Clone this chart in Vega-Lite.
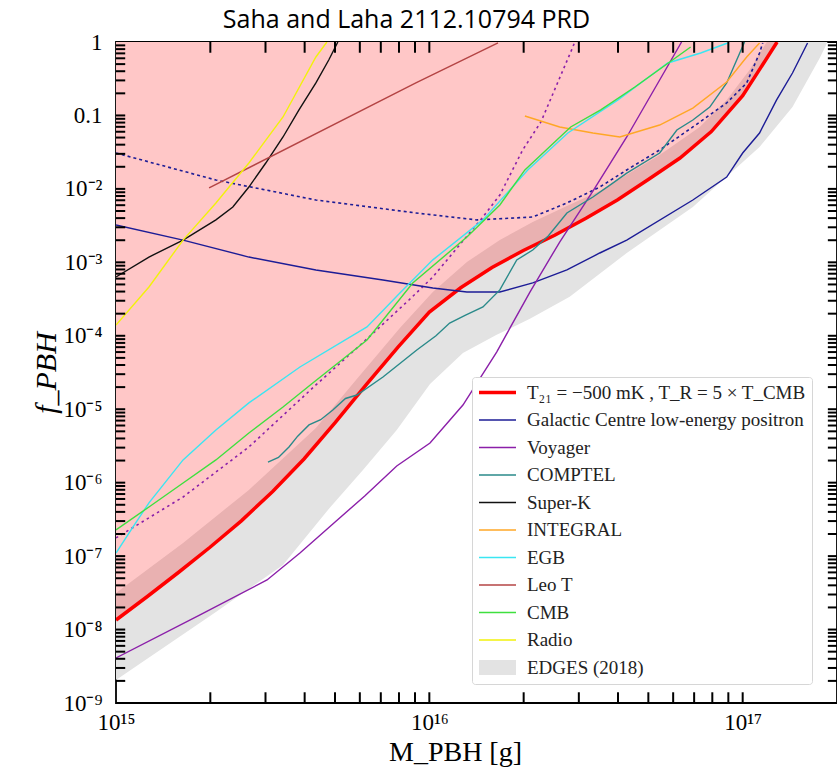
{
 "$schema": "https://vega.github.io/schema/vega-lite/v6.json",
 "width": 721, "height": 661,
 "autosize": {"type": "none"},
 "padding": {"left": 116, "top": 42, "right": 0, "bottom": 70},
 "background": "white",
 "title": {"text": "Saha and  Laha 2112.10794 PRD", "font": "Open Sans", "fontSize": 25, "fontWeight": "normal", "color": "black", "anchor": "middle", "dx": -70, "offset": -2},
 "config": {
  "view": {"stroke": "black", "strokeWidth": 1.8},
  "axis": {"domain": false, "grid": false, "ticks": false, "labelFlush": false, "labelOverlap": false, "zindex": 1}
 },
 "datasets": {
  "xticks": [
   {"M": 2e15}, {"M": 3e15}, {"M": 4e15}, {"M": 5e15}, {"M": 6e15}, {"M": 7e15}, {"M": 8e15}, {"M": 9e15},
   {"M": 1e16}, {"M": 2e16}, {"M": 3e16}, {"M": 4e16}, {"M": 5e16}, {"M": 6e16}, {"M": 7e16}, {"M": 8e16}, {"M": 9e16},
   {"M": 1e17}
  ],
  "yticks": [
   {"f": 2e-9}, {"f": 3e-9}, {"f": 4e-9}, {"f": 5e-9}, {"f": 6e-9}, {"f": 7e-9}, {"f": 8e-9}, {"f": 9e-9},
   {"f": 1e-8}, {"f": 2e-8}, {"f": 3e-8}, {"f": 4e-8}, {"f": 5e-8}, {"f": 6e-8}, {"f": 7e-8}, {"f": 8e-8}, {"f": 9e-8},
   {"f": 1e-7}, {"f": 2e-7}, {"f": 3e-7}, {"f": 4e-7}, {"f": 5e-7}, {"f": 6e-7}, {"f": 7e-7}, {"f": 8e-7}, {"f": 9e-7},
   {"f": 1e-6}, {"f": 2e-6}, {"f": 3e-6}, {"f": 4e-6}, {"f": 5e-6}, {"f": 6e-6}, {"f": 7e-6}, {"f": 8e-6}, {"f": 9e-6},
   {"f": 1e-5}, {"f": 2e-5}, {"f": 3e-5}, {"f": 4e-5}, {"f": 5e-5}, {"f": 6e-5}, {"f": 7e-5}, {"f": 8e-5}, {"f": 9e-5},
   {"f": 1e-4}, {"f": 2e-4}, {"f": 3e-4}, {"f": 4e-4}, {"f": 5e-4}, {"f": 6e-4}, {"f": 7e-4}, {"f": 8e-4}, {"f": 9e-4},
   {"f": 1e-3}, {"f": 2e-3}, {"f": 3e-3}, {"f": 4e-3}, {"f": 5e-3}, {"f": 6e-3}, {"f": 7e-3}, {"f": 8e-3}, {"f": 9e-3},
   {"f": 1e-2}, {"f": 2e-2}, {"f": 3e-2}, {"f": 4e-2}, {"f": 5e-2}, {"f": 6e-2}, {"f": 7e-2}, {"f": 8e-2}, {"f": 9e-2},
   {"f": 0.1}, {"f": 0.2}, {"f": 0.3}, {"f": 0.4}, {"f": 0.5}, {"f": 0.6}, {"f": 0.7}, {"f": 0.8}, {"f": 0.9}
  ],
  "curves": [
   {"series": "EDGES lower", "M": 1e15, "f": 2.06e-9},
   {"series": "EDGES lower", "M": 2.084e15, "f": 1.74e-8},
   {"series": "EDGES lower", "M": 3.412e15, "f": 7.59e-8},
   {"series": "EDGES lower", "M": 4.82e15, "f": 4.6e-7},
   {"series": "EDGES lower", "M": 6.14e15, "f": 1.49e-6},
   {"series": "EDGES lower", "M": 7.87e15, "f": 5.21e-6},
   {"series": "EDGES lower", "M": 1.005e16, "f": 2.2e-5},
   {"series": "EDGES lower", "M": 1.28e16, "f": 5.83e-5},
   {"series": "EDGES lower", "M": 1.64e16, "f": 1.03e-4},
   {"series": "EDGES lower", "M": 2.094e16, "f": 1.7e-4},
   {"series": "EDGES lower", "M": 2.805e16, "f": 3.4e-4},
   {"series": "EDGES lower", "M": 4.266e16, "f": 1.34e-3},
   {"series": "EDGES lower", "M": 6.934e16, "f": 5.68e-3},
   {"series": "EDGES lower", "M": 1.132e17, "f": 3.72e-2},
   {"series": "EDGES lower", "M": 1.442e17, "f": 0.13},
   {"series": "EDGES lower", "M": 1.762e17, "f": 0.605},
   {"series": "EDGES lower", "M": 1.866e17, "f": 1.0},

   {"series": "EDGES upper", "M": 1e15, "f": 3.15e-8},
   {"series": "EDGES upper", "M": 1.637e15, "f": 1.51e-7},
   {"series": "EDGES upper", "M": 2.655e15, "f": 7.96e-7},
   {"series": "EDGES upper", "M": 4.345e15, "f": 5.56e-6},
   {"series": "EDGES upper", "M": 5.834e15, "f": 2.5e-5},
   {"series": "EDGES upper", "M": 8.054e15, "f": 1.28e-4},
   {"series": "EDGES upper", "M": 1.026e16, "f": 3.94e-4},
   {"series": "EDGES upper", "M": 1.318e16, "f": 1.01e-3},
   {"series": "EDGES upper", "M": 1.679e16, "f": 2.01e-3},
   {"series": "EDGES upper", "M": 2.138e16, "f": 3.54e-3},
   {"series": "EDGES upper", "M": 2.748e16, "f": 5.85e-3},
   {"series": "EDGES upper", "M": 3.499e16, "f": 9.35e-3},
   {"series": "EDGES upper", "M": 5.433e16, "f": 2.9e-2},
   {"series": "EDGES upper", "M": 7.295e16, "f": 6.97e-2},
   {"series": "EDGES upper", "M": 8.892e16, "f": 0.162},
   {"series": "EDGES upper", "M": 1.052e17, "f": 0.416},
   {"series": "EDGES upper", "M": 1.194e17, "f": 1.0},

   {"series": "T₂₁ = −500 mK , T_R = 5 × T_CMB", "M": 1e15, "f": 1.35e-8},
   {"series": "T₂₁ = −500 mK , T_R = 5 × T_CMB", "M": 1.259e15, "f": 2.82e-8},
   {"series": "T₂₁ = −500 mK , T_R = 5 × T_CMB", "M": 1.585e15, "f": 6.03e-8},
   {"series": "T₂₁ = −500 mK , T_R = 5 × T_CMB", "M": 1.995e15, "f": 1.32e-7},
   {"series": "T₂₁ = −500 mK , T_R = 5 × T_CMB", "M": 2.512e15, "f": 3.02e-7},
   {"series": "T₂₁ = −500 mK , T_R = 5 × T_CMB", "M": 3.162e15, "f": 7.59e-7},
   {"series": "T₂₁ = −500 mK , T_R = 5 × T_CMB", "M": 3.981e15, "f": 2.1e-6},
   {"series": "T₂₁ = −500 mK , T_R = 5 × T_CMB", "M": 5.012e15, "f": 6.6e-6},
   {"series": "T₂₁ = −500 mK , T_R = 5 × T_CMB", "M": 6.31e15, "f": 2.2e-5},
   {"series": "T₂₁ = −500 mK , T_R = 5 × T_CMB", "M": 7.943e15, "f": 7.0e-5},
   {"series": "T₂₁ = −500 mK , T_R = 5 × T_CMB", "M": 1e16, "f": 2.1e-4},
   {"series": "T₂₁ = −500 mK , T_R = 5 × T_CMB", "M": 1.259e16, "f": 4.5e-4},
   {"series": "T₂₁ = −500 mK , T_R = 5 × T_CMB", "M": 1.585e16, "f": 8.51e-4},
   {"series": "T₂₁ = −500 mK , T_R = 5 × T_CMB", "M": 1.995e16, "f": 1.45e-3},
   {"series": "T₂₁ = −500 mK , T_R = 5 × T_CMB", "M": 2.512e16, "f": 2.34e-3},
   {"series": "T₂₁ = −500 mK , T_R = 5 × T_CMB", "M": 3.162e16, "f": 3.98e-3},
   {"series": "T₂₁ = −500 mK , T_R = 5 × T_CMB", "M": 3.981e16, "f": 7.08e-3},
   {"series": "T₂₁ = −500 mK , T_R = 5 × T_CMB", "M": 5.012e16, "f": 1.35e-2},
   {"series": "T₂₁ = −500 mK , T_R = 5 × T_CMB", "M": 6.31e16, "f": 2.63e-2},
   {"series": "T₂₁ = −500 mK , T_R = 5 × T_CMB", "M": 7.943e16, "f": 6.03e-2},
   {"series": "T₂₁ = −500 mK , T_R = 5 × T_CMB", "M": 1e17, "f": 0.186},
   {"series": "T₂₁ = −500 mK , T_R = 5 × T_CMB", "M": 1.122e17, "f": 0.398},
   {"series": "T₂₁ = −500 mK , T_R = 5 × T_CMB", "M": 1.288e17, "f": 1.0},

   {"series": "Galactic Centre low-energy positron", "M": 1e15, "f": 3.23e-3},
   {"series": "Galactic Centre low-energy positron", "M": 1.637e15, "f": 2.01e-3},
   {"series": "Galactic Centre low-energy positron", "M": 2.655e15, "f": 1.18e-3},
   {"series": "Galactic Centre low-energy positron", "M": 4.345e15, "f": 7.87e-4},
   {"series": "Galactic Centre low-energy positron", "M": 7.112e15, "f": 5.75e-4},
   {"series": "Galactic Centre low-energy positron", "M": 1.026e16, "f": 4.48e-4},
   {"series": "Galactic Centre low-energy positron", "M": 1.318e16, "f": 3.94e-4},
   {"series": "Galactic Centre low-energy positron", "M": 1.679e16, "f": 3.94e-4},
   {"series": "Galactic Centre low-energy positron", "M": 2.138e16, "f": 5.24e-4},
   {"series": "Galactic Centre low-energy positron", "M": 2.748e16, "f": 7.87e-4},
   {"series": "Galactic Centre low-energy positron", "M": 3.499e16, "f": 1.34e-3},
   {"series": "Galactic Centre low-energy positron", "M": 4.266e16, "f": 2.01e-3},
   {"series": "Galactic Centre low-energy positron", "M": 6.934e16, "f": 7.06e-3},
   {"series": "Galactic Centre low-energy positron", "M": 8.892e16, "f": 1.45e-2},
   {"series": "Galactic Centre low-energy positron", "M": 1e17, "f": 3.08e-2},
   {"series": "Galactic Centre low-energy positron", "M": 1.132e17, "f": 5.77e-2},
   {"series": "Galactic Centre low-energy positron", "M": 1.282e17, "f": 0.162},
   {"series": "Galactic Centre low-energy positron", "M": 1.442e17, "f": 0.378},
   {"series": "Galactic Centre low-energy positron", "M": 1.611e17, "f": 0.97},

   {"series": "Galactic Centre (dotted)", "M": 1e15, "f": 3.08e-2},
   {"series": "Galactic Centre (dotted)", "M": 2.084e15, "f": 1.32e-2},
   {"series": "Galactic Centre (dotted)", "M": 4.345e15, "f": 7.06e-3},
   {"series": "Galactic Centre (dotted)", "M": 9.057e15, "f": 4.7e-3},
   {"series": "Galactic Centre (dotted)", "M": 1.419e16, "f": 3.78e-3},
   {"series": "Galactic Centre (dotted)", "M": 2.138e16, "f": 4.14e-3},
   {"series": "Galactic Centre (dotted)", "M": 2.748e16, "f": 6.43e-3},
   {"series": "Galactic Centre (dotted)", "M": 3.499e16, "f": 1.06e-2},
   {"series": "Galactic Centre (dotted)", "M": 4.266e16, "f": 1.81e-2},
   {"series": "Galactic Centre (dotted)", "M": 5.433e16, "f": 3.39e-2},
   {"series": "Galactic Centre (dotted)", "M": 6.934e16, "f": 6.97e-2},
   {"series": "Galactic Centre (dotted)", "M": 8.892e16, "f": 0.148},
   {"series": "Galactic Centre (dotted)", "M": 1.03e17, "f": 0.277},
   {"series": "Galactic Centre (dotted)", "M": 1.132e17, "f": 0.708},
   {"series": "Galactic Centre (dotted)", "M": 1.159e17, "f": 0.97},

   {"series": "Voyager", "M": 1e15, "f": 4.1e-9},
   {"series": "Voyager", "M": 1.854e15, "f": 1.58e-8},
   {"series": "Voyager", "M": 3.034e15, "f": 4.73e-8},
   {"series": "Voyager", "M": 3.864e15, "f": 1.1e-7},
   {"series": "Voyager", "M": 4.92e15, "f": 2.74e-7},
   {"series": "Voyager", "M": 6.22e15, "f": 6.59e-7},
   {"series": "Voyager", "M": 7.87e15, "f": 1.69e-6},
   {"series": "Voyager", "M": 1.005e16, "f": 3.47e-6},
   {"series": "Voyager", "M": 1.28e16, "f": 1.14e-5},
   {"series": "Voyager", "M": 1.64e16, "f": 6.01e-5},
   {"series": "Voyager", "M": 2.094e16, "f": 3.94e-4},
   {"series": "Voyager", "M": 2.606e16, "f": 1.89e-3},
   {"series": "Voyager", "M": 3.327e16, "f": 9.35e-3},
   {"series": "Voyager", "M": 4.266e16, "f": 5.09e-2},
   {"series": "Voyager", "M": 5.433e16, "f": 0.304},
   {"series": "Voyager", "M": 6.383e16, "f": 1.0},

   {"series": "Voyager (dotted)", "M": 1e15, "f": 1.77e-7},
   {"series": "Voyager (dotted)", "M": 1.637e15, "f": 6.38e-7},
   {"series": "Voyager (dotted)", "M": 2.655e15, "f": 3.06e-6},
   {"series": "Voyager (dotted)", "M": 4.345e15, "f": 2.14e-5},
   {"series": "Voyager (dotted)", "M": 6.324e15, "f": 9.06e-5},
   {"series": "Voyager (dotted)", "M": 8.61e15, "f": 3.07e-4},
   {"series": "Voyager (dotted)", "M": 1.026e16, "f": 6.32e-4},
   {"series": "Voyager (dotted)", "M": 1.483e16, "f": 4.14e-3},
   {"series": "Voyager (dotted)", "M": 1.679e16, "f": 8.26e-3},
   {"series": "Voyager (dotted)", "M": 1.986e16, "f": 3.39e-2},
   {"series": "Voyager (dotted)", "M": 2.27e16, "f": 8.15e-2},
   {"series": "Voyager (dotted)", "M": 2.871e16, "f": 0.855},
   {"series": "Voyager (dotted)", "M": 2.911e16, "f": 1.0},

   {"series": "COMPTEL", "M": 3.055e15, "f": 1.91e-6},
   {"series": "COMPTEL", "M": 3.3e15, "f": 2.2e-6},
   {"series": "COMPTEL", "M": 3.565e15, "f": 3.06e-6},
   {"series": "COMPTEL", "M": 3.8e15, "f": 4.3e-6},
   {"series": "COMPTEL", "M": 4.13e15, "f": 6.11e-6},
   {"series": "COMPTEL", "M": 4.5e15, "f": 7.2e-6},
   {"series": "COMPTEL", "M": 4.92e15, "f": 9.77e-6},
   {"series": "COMPTEL", "M": 5.4e15, "f": 1.4e-5},
   {"series": "COMPTEL", "M": 5.875e15, "f": 1.56e-5},
   {"series": "COMPTEL", "M": 7.112e15, "f": 2.75e-5},
   {"series": "COMPTEL", "M": 8.0e15, "f": 4.1e-5},
   {"series": "COMPTEL", "M": 9.12e15, "f": 6.41e-5},
   {"series": "COMPTEL", "M": 1.05e16, "f": 1.0e-4},
   {"series": "COMPTEL", "M": 1.161e16, "f": 1.49e-4},
   {"series": "COMPTEL", "M": 1.3e16, "f": 1.9e-4},
   {"series": "COMPTEL", "M": 1.483e16, "f": 2.47e-4},
   {"series": "COMPTEL", "M": 1.679e16, "f": 4.21e-4},
   {"series": "COMPTEL", "M": 1.901e16, "f": 1.08e-3},
   {"series": "COMPTEL", "M": 2.138e16, "f": 1.47e-3},
   {"series": "COMPTEL", "M": 2.4e16, "f": 2.3e-3},
   {"series": "COMPTEL", "M": 2.748e16, "f": 4.7e-3},
   {"series": "COMPTEL", "M": 3.327e16, "f": 7.76e-3},
   {"series": "COMPTEL", "M": 3.8e16, "f": 1.15e-2},
   {"series": "COMPTEL", "M": 4.266e16, "f": 1.64e-2},
   {"series": "COMPTEL", "M": 5.433e16, "f": 3.08e-2},
   {"series": "COMPTEL", "M": 6.166e16, "f": 6.34e-2},
   {"series": "COMPTEL", "M": 6.934e16, "f": 8.67e-2},
   {"series": "COMPTEL", "M": 7.852e16, "f": 0.13},
   {"series": "COMPTEL", "M": 8.892e16, "f": 0.277},
   {"series": "COMPTEL", "M": 9.57e16, "f": 0.569},
   {"series": "COMPTEL", "M": 1.014e17, "f": 1.0},

   {"series": "Super-K", "M": 1e15, "f": 6.32e-4},
   {"series": "Super-K", "M": 1.274e15, "f": 1.18e-3},
   {"series": "Super-K", "M": 1.637e15, "f": 2.01e-3},
   {"series": "Super-K", "M": 2.084e15, "f": 3.78e-3},
   {"series": "Super-K", "M": 2.36e15, "f": 5.68e-3},
   {"series": "Super-K", "M": 2.655e15, "f": 1.06e-2},
   {"series": "Super-K", "M": 3.006e15, "f": 2.25e-2},
   {"series": "Super-K", "M": 3.412e15, "f": 5.09e-2},
   {"series": "Super-K", "M": 3.837e15, "f": 0.119},
   {"series": "Super-K", "M": 4.345e15, "f": 0.277},
   {"series": "Super-K", "M": 4.775e15, "f": 0.569},
   {"series": "Super-K", "M": 5.105e15, "f": 1.0},

   {"series": "INTEGRAL", "M": 2.018e16, "f": 9.84e-2},
   {"series": "INTEGRAL", "M": 2.606e16, "f": 6.97e-2},
   {"series": "INTEGRAL", "M": 3.327e16, "f": 5.77e-2},
   {"series": "INTEGRAL", "M": 4.055e16, "f": 5.09e-2},
   {"series": "INTEGRAL", "M": 5.433e16, "f": 7.41e-2},
   {"series": "INTEGRAL", "M": 6.934e16, "f": 0.126},
   {"series": "INTEGRAL", "M": 8.892e16, "f": 0.285},
   {"series": "INTEGRAL", "M": 1.03e17, "f": 0.625},
   {"series": "INTEGRAL", "M": 1.132e17, "f": 0.97},

   {"series": "EGB", "M": 1e15, "f": 1.1e-7},
   {"series": "EGB", "M": 1.132e15, "f": 2.49e-7},
   {"series": "EGB", "M": 1.274e15, "f": 5.3e-7},
   {"series": "EGB", "M": 1.637e15, "f": 2.04e-6},
   {"series": "EGB", "M": 2.084e15, "f": 5.22e-6},
   {"series": "EGB", "M": 2.655e15, "f": 1.22e-5},
   {"series": "EGB", "M": 3.864e15, "f": 3.76e-5},
   {"series": "EGB", "M": 6.324e15, "f": 1.32e-4},
   {"series": "EGB", "M": 8.054e15, "f": 3.83e-4},
   {"series": "EGB", "M": 1.026e16, "f": 1.08e-3},
   {"series": "EGB", "M": 1.483e16, "f": 3.78e-3},
   {"series": "EGB", "M": 2.061e16, "f": 1.81e-2},
   {"series": "EGB", "M": 2.767e16, "f": 5.77e-2},
   {"series": "EGB", "M": 3.99e16, "f": 0.162},
   {"series": "EGB", "M": 5.768e16, "f": 0.518},
   {"series": "EGB", "M": 7.345e16, "f": 0.708},
   {"series": "EGB", "M": 8.954e16, "f": 0.97},

   {"series": "Leo T", "M": 1.982e15, "f": 1.03e-2},
   {"series": "Leo T", "M": 9.057e15, "f": 0.277},
   {"series": "Leo T", "M": 1.656e16, "f": 0.97},

   {"series": "CMB", "M": 1e15, "f": 2.27e-7},
   {"series": "CMB", "M": 1.274e15, "f": 4.67e-7},
   {"series": "CMB", "M": 1.637e15, "f": 9.91e-7},
   {"series": "CMB", "M": 2.084e15, "f": 2.04e-6},
   {"series": "CMB", "M": 2.655e15, "f": 4.75e-6},
   {"series": "CMB", "M": 3.412e15, "f": 1.07e-5},
   {"series": "CMB", "M": 4.246e15, "f": 2.28e-5},
   {"series": "CMB", "M": 6.324e15, "f": 8.77e-5},
   {"series": "CMB", "M": 8.851e15, "f": 5.24e-4},
   {"series": "CMB", "M": 1.318e16, "f": 2.21e-3},
   {"series": "CMB", "M": 1.679e16, "f": 6.04e-3},
   {"series": "CMB", "M": 2.018e16, "f": 1.81e-2},
   {"series": "CMB", "M": 2.825e16, "f": 6.97e-2},
   {"series": "CMB", "M": 3.524e16, "f": 0.119},
   {"series": "CMB", "M": 4.529e16, "f": 0.244},
   {"series": "CMB", "M": 6.823e16, "f": 0.855},

   {"series": "Radio", "M": 1e15, "f": 1.4e-4},
   {"series": "Radio", "M": 1.274e15, "f": 4.61e-4},
   {"series": "Radio", "M": 1.637e15, "f": 2.01e-3},
   {"series": "Radio", "M": 2.084e15, "f": 6.43e-3},
   {"series": "Radio", "M": 2.655e15, "f": 2.25e-2},
   {"series": "Radio", "M": 3.412e15, "f": 9.53e-2},
   {"series": "Radio", "M": 4.345e15, "f": 0.625},
   {"series": "Radio", "M": 4.71e15, "f": 1.0}
  ]
 },
 "layer": [
  {
   "data": {"name": "curves"},
   "transform": [{"filter": "datum.series === 'EDGES lower'"}],
   "mark": {"type": "area", "color": "#e3e3e3", "clip": true},
   "encoding": {
    "x": {"field": "M", "type": "quantitative", "scale": {"type": "log", "domain": [1e15, 2e17]},
     "axis": {"orient": "bottom", "values": [1e15, 1e16, 1e17],
      "labelExpr": "datum.value === 1e15 ? '10¹⁵' : datum.value === 1e16 ? '10¹⁶' : datum.value === 1e17 ? '10¹⁷' : ''",
      "labelFont": "Liberation Serif", "labelFontSize": 23, "labelColor": "black", "labelPadding": 8,
      "title": "M_PBH [g]", "titleFont": "Liberation Serif", "titleFontSize": 28, "titleFontWeight": "normal", "titleColor": "black", "titlePadding": 4, "titleX": 339}},
    "y": {"field": "f", "type": "quantitative", "scale": {"type": "log", "domain": [1e-9, 1]},
     "axis": {"orient": "left", "values": [1e-9, 1e-8, 1e-7, 1e-6, 1e-5, 1e-4, 1e-3, 1e-2, 0.1, 1],
      "labelExpr": "datum.value === 1 ? '1' : datum.value === 0.1 ? '0.1' : datum.value === 1e-2 ? '10⁻²' : datum.value === 1e-3 ? '10⁻³' : datum.value === 1e-4 ? '10⁻⁴' : datum.value === 1e-5 ? '10⁻⁵' : datum.value === 1e-6 ? '10⁻⁶' : datum.value === 1e-7 ? '10⁻⁷' : datum.value === 1e-8 ? '10⁻⁸' : datum.value === 1e-9 ? '10⁻⁹' : ''",
      "labelFont": "Liberation Serif", "labelFontSize": 23, "labelColor": "black", "labelPadding": 14,
      "title": "f_PBH", "titleFont": "Liberation Serif", "titleFontSize": 30, "titleFontStyle": "italic", "titleFontWeight": "normal", "titleColor": "black", "titlePadding": 1}},
    "y2": {"datum": 1}
   }
  },
  {
   "data": {"name": "curves"},
   "transform": [{"filter": "datum.series === 'EDGES upper'"}],
   "mark": {"type": "area", "color": "white", "clip": true},
   "encoding": {
    "x": {"field": "M", "type": "quantitative", "scale": {"type": "log", "domain": [1e15, 2e17]}, "axis": null},
    "y": {"field": "f", "type": "quantitative", "scale": {"type": "log", "domain": [1e-9, 1]}, "axis": null},
    "y2": {"datum": 1}
   }
  },
  {
   "data": {"name": "curves"},
   "transform": [{"filter": "datum.series === 'T₂₁ = −500 mK , T_R = 5 × T_CMB'"}],
   "mark": {"type": "area", "color": "#ff0000", "opacity": 0.22, "clip": true},
   "encoding": {
    "x": {"field": "M", "type": "quantitative", "scale": {"type": "log", "domain": [1e15, 2e17]}, "axis": null},
    "y": {"field": "f", "type": "quantitative", "scale": {"type": "log", "domain": [1e-9, 1]}, "axis": null},
    "y2": {"datum": 1}
   }
  },
  {
   "data": {"name": "curves"},
   "transform": [{"filter": "datum.series === 'Galactic Centre (dotted)'"}],
   "mark": {"type": "line", "color": "#1c1c96", "strokeWidth": 1.6, "strokeDash": [3, 3], "clip": true},
   "encoding": {
    "x": {"field": "M", "type": "quantitative", "scale": {"type": "log", "domain": [1e15, 2e17]}, "axis": null},
    "y": {"field": "f", "type": "quantitative", "scale": {"type": "log", "domain": [1e-9, 1]}, "axis": null}
   }
  },
  {
   "data": {"name": "curves"},
   "transform": [{"filter": "datum.series === 'Voyager (dotted)'"}],
   "mark": {"type": "line", "color": "#8b1fa9", "strokeWidth": 1.6, "strokeDash": [2.5, 3.5], "clip": true},
   "encoding": {
    "x": {"field": "M", "type": "quantitative", "scale": {"type": "log", "domain": [1e15, 2e17]}, "axis": null},
    "y": {"field": "f", "type": "quantitative", "scale": {"type": "log", "domain": [1e-9, 1]}, "axis": null}
   }
  },
  {
   "data": {"name": "curves"},
   "transform": [{"filter": "datum.series === 'T₂₁ = −500 mK , T_R = 5 × T_CMB'"}],
   "mark": {"type": "line", "strokeWidth": 3.5, "clip": true},
   "encoding": {
    "x": {"field": "M", "type": "quantitative", "scale": {"type": "log", "domain": [1e15, 2e17]}, "axis": null},
    "y": {"field": "f", "type": "quantitative", "scale": {"type": "log", "domain": [1e-9, 1]}, "axis": null},
    "color": {"field": "series", "type": "nominal",
     "scale": {"domain": ["T₂₁ = −500 mK , T_R = 5 × T_CMB", "Galactic Centre low-energy positron", "Voyager", "COMPTEL", "Super-K", "INTEGRAL", "EGB", "Leo T", "CMB", "Radio", "EDGES (2018)"],
      "range": ["#ff0000", "#1c1c96", "#8b1fa9", "#2a8a8a", "#111111", "#ffa726", "#3ae6f2", "#b44444", "#3ee03e", "#f2f20a", "#e3e3e3"]},
     "legend": {"orient": "none", "legendX": 356, "legendY": 335, "title": null, "symbolType": "stroke", "symbolSize": 1369, "symbolStrokeWidth": 1.5, "symbolOpacity": 1, "symbolOffset": 10,
      "labelFont": "Liberation Serif", "labelFontSize": 19, "labelColor": "#222222", "labelLimit": 400, "labelOffset": 20, "rowPadding": 7.5, "padding": 6,
      "strokeColor": "#d6d6d6", "fillColor": "white", "cornerRadius": 3,
      "encode": {"symbols": {"update": {
       "shape": {"signal": "datum.value === 'EDGES (2018)' ? 'M-1,-0.4H1V0.4H-1Z' : 'stroke'"},
       "fill": {"signal": "datum.value === 'EDGES (2018)' ? '#e3e3e3' : 'transparent'"},
       "strokeWidth": {"signal": "datum.value === 'EDGES (2018)' ? 0 : (datum.index === 0 ? 3.5 : 1.5)"}}}}}}
   }
  },
  {
   "data": {"name": "curves"},
   "transform": [{"filter": {"field": "series", "oneOf": ["Galactic Centre low-energy positron", "Voyager", "COMPTEL", "Super-K", "INTEGRAL", "EGB", "Leo T", "CMB", "Radio"]}}],
   "mark": {"type": "line", "strokeWidth": 1.4, "clip": true},
   "encoding": {
    "x": {"field": "M", "type": "quantitative", "scale": {"type": "log", "domain": [1e15, 2e17]}, "axis": null},
    "y": {"field": "f", "type": "quantitative", "scale": {"type": "log", "domain": [1e-9, 1]}, "axis": null},
    "color": {"field": "series", "type": "nominal",
     "scale": {"domain": ["T₂₁ = −500 mK , T_R = 5 × T_CMB", "Galactic Centre low-energy positron", "Voyager", "COMPTEL", "Super-K", "INTEGRAL", "EGB", "Leo T", "CMB", "Radio", "EDGES (2018)"],
      "range": ["#ff0000", "#1c1c96", "#8b1fa9", "#2a8a8a", "#111111", "#ffa726", "#3ae6f2", "#b44444", "#3ee03e", "#f2f20a", "#e3e3e3"]},
     "legend": {"orient": "none", "legendX": 356, "legendY": 335, "title": null, "symbolType": "stroke", "symbolSize": 1369, "symbolStrokeWidth": 1.5, "symbolOpacity": 1, "symbolOffset": 10,
      "labelFont": "Liberation Serif", "labelFontSize": 19, "labelColor": "#222222", "labelLimit": 400, "labelOffset": 20, "rowPadding": 7.5, "padding": 6,
      "strokeColor": "#d6d6d6", "fillColor": "white", "cornerRadius": 3,
      "encode": {"symbols": {"update": {
       "shape": {"signal": "datum.value === 'EDGES (2018)' ? 'M-1,-0.4H1V0.4H-1Z' : 'stroke'"},
       "fill": {"signal": "datum.value === 'EDGES (2018)' ? '#e3e3e3' : 'transparent'"},
       "strokeWidth": {"signal": "datum.value === 'EDGES (2018)' ? 0 : (datum.index === 0 ? 3.5 : 1.5)"}}}}}}
   }
  },
  {
   "data": {"name": "xticks"},
   "mark": {"type": "rule", "color": "black", "strokeWidth": 2, "opacity": 1, "clip": false},
   "encoding": {
    "x": {"field": "M", "type": "quantitative", "scale": {"type": "log", "domain": [1e15, 2e17]}, "axis": null},
    "y": {"datum": 1e-9, "type": "quantitative", "scale": {"type": "log", "domain": [1e-9, 1]}, "axis": null},
    "y2": {"datum": 1.4e-9}
   }
  },
  {
   "data": {"name": "xticks"},
   "mark": {"type": "rule", "color": "black", "strokeWidth": 2, "opacity": 1, "clip": false},
   "encoding": {
    "x": {"field": "M", "type": "quantitative", "scale": {"type": "log", "domain": [1e15, 2e17]}, "axis": null},
    "y": {"datum": 1, "type": "quantitative", "scale": {"type": "log", "domain": [1e-9, 1]}, "axis": null},
    "y2": {"datum": 0.714}
   }
  },
  {
   "data": {"name": "yticks"},
   "mark": {"type": "rule", "color": "black", "strokeWidth": 2, "opacity": 1, "clip": false},
   "encoding": {
    "x": {"datum": 1e15, "type": "quantitative", "scale": {"type": "log", "domain": [1e15, 2e17]}, "axis": null},
    "x2": {"datum": 1.07e15},
    "y": {"field": "f", "type": "quantitative", "scale": {"type": "log", "domain": [1e-9, 1]}, "axis": null}
   }
  },
  {
   "data": {"name": "yticks"},
   "mark": {"type": "rule", "color": "black", "strokeWidth": 2, "opacity": 1, "clip": false},
   "encoding": {
    "x": {"datum": 2e17, "type": "quantitative", "scale": {"type": "log", "domain": [1e15, 2e17]}, "axis": null},
    "x2": {"datum": 1.87e17},
    "y": {"field": "f", "type": "quantitative", "scale": {"type": "log", "domain": [1e-9, 1]}, "axis": null}
   }
  }
 ],
 "resolve": {"axis": {"x": "independent", "y": "independent"}}
}
